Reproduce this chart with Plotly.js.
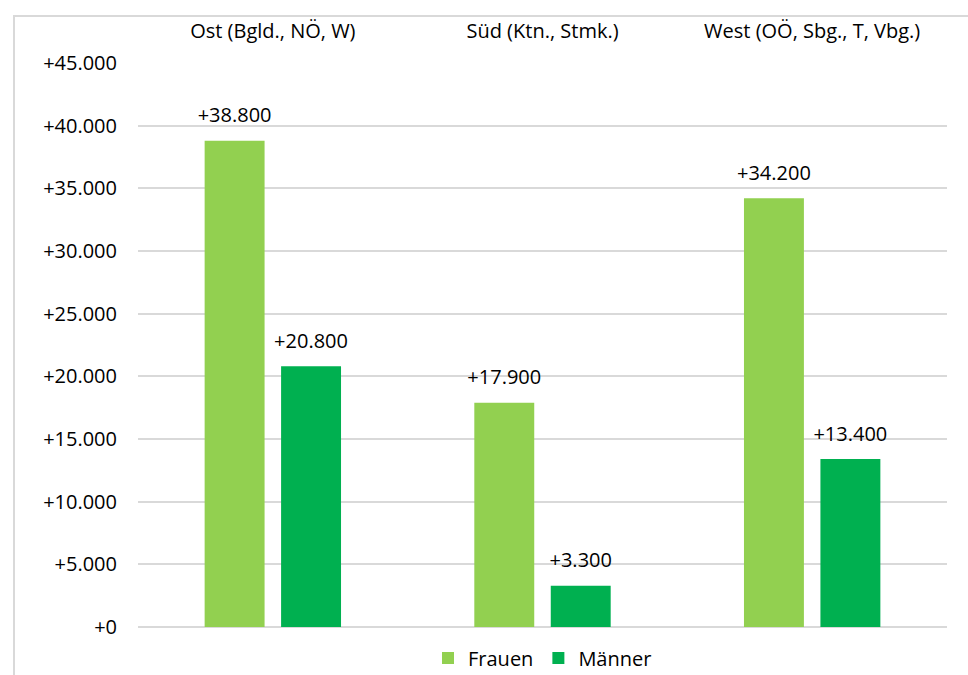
<!DOCTYPE html>
<html>
<head>
<meta charset="utf-8">
<script src="https://cdn.plot.ly/plotly-3.0.1.min.js"></script>
<style>
html,body{margin:0;padding:0;background:#fff;}
#chart{width:968px;height:675px;position:absolute;left:0;top:0;}
#frame{position:absolute;left:13px;top:15px;width:1000px;height:700px;border-left:2px solid #d9d9d9;border-top:2px solid #d9d9d9;pointer-events:none;}
</style>
</head>
<body>
<div id="chart"></div>
<div id="frame"></div>
<script>
var categories = ["Ost (Bgld., NÖ, W)", "Süd (Ktn., Stmk.)", "West (OÖ, Sbg., T, Vbg.)"];
var seriesNames = ["Frauen", "Männer"];
var frauen = [38800, 17900, 34200];
var maenner = [20800, 3300, 13400];
var yTicks = [0, 5000, 10000, 15000, 20000, 25000, 30000, 35000, 40000, 45000];

function fmt(v){ return '+' + String(v).replace(/\B(?=(\d{3})+(?!\d))/g, '.'); }

var FONT = "'Open Sans', 'Noto Sans', sans-serif";
var FS = 20;
var BARGAP = 0.433;

var traces = [
  {type:'bar', name:seriesNames[0], x:categories, y:frauen, marker:{color:'#92d050'}},
  {type:'bar', name:seriesNames[1], x:categories, y:maenner, marker:{color:'#00b050'}},
  {type:'scatter', mode:'markers+text', showlegend:false, x:categories, y:frauen,
   text:frauen.map(fmt), textposition:'top center', marker:{size:20, color:'rgba(0,0,0,0)'},
   textfont:{family:FONT,size:FS,color:'#000'}, cliponaxis:false, hoverinfo:'skip'},
  {type:'scatter', mode:'markers+text', showlegend:false, x:categories, y:maenner,
   text:maenner.map(fmt), textposition:'top center', marker:{size:20, color:'rgba(0,0,0,0)'},
   textfont:{family:FONT,size:FS,color:'#000'}, cliponaxis:false, hoverinfo:'skip'}
];

var layout = {
  width:968, height:675,
  margin:{l:138, r:21, t:63, b:48, autoexpand:false},
  paper_bgcolor:'#fff', plot_bgcolor:'#fff',
  separators:',.',
  barmode:'group', bargap:BARGAP, bargroupgap:0.216,
  scattermode:'group', scattergap:BARGAP,
  font:{family:FONT, size:FS, color:'#000'},
  showlegend:true,
  legend:{orientation:'h', x:0.5, xanchor:'center', y:-0.055, yanchor:'middle',
          font:{family:FONT,size:FS,color:'#000'}, tracegroupgap:0},
  xaxis:{type:'category', side:'top', showgrid:false, showline:false, ticks:'',
         tickfont:{family:FONT,size:FS,color:'#000'}, ticklabelstandoff:20},
  yaxis:{range:[0,45000], tickmode:'array', tickvals:yTicks, ticktext:yTicks.map(fmt),
         showgrid:true, gridcolor:'#d9d9d9', gridwidth:2, zeroline:true, zerolinecolor:'#d9d9d9', zerolinewidth:2,
         showline:false, ticks:'', ticklabelstandoff:20,
         tickfont:{family:FONT,size:FS,color:'#000'}}
};

Plotly.newPlot('chart', traces, layout, {displayModeBar:false, staticPlot:true});
</script>
</body>
</html>
